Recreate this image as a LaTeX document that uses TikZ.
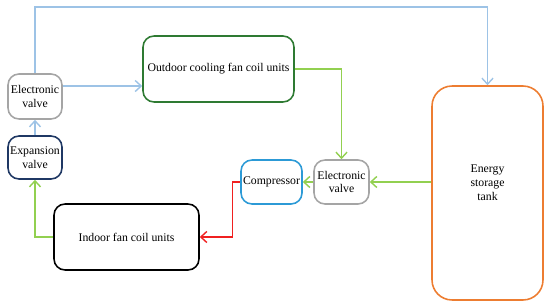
\documentclass[tikz,border=0pt]{standalone}
\usepackage{fontspec}
\setmainfont{Liberation Serif}
\usetikzlibrary{positioning,calc,arrows.meta}
\definecolor{valvegray}{HTML}{A5A5A5}
\definecolor{expnavy}{HTML}{1F3864}
\definecolor{outgreen}{HTML}{2E7A32}
\definecolor{tankorange}{HTML}{ED7D31}
\definecolor{compblue}{HTML}{2C9AD6}
\definecolor{pipeblue}{HTML}{9DC3E6}
\definecolor{pipegreen}{HTML}{92D050}
\definecolor{pipered}{HTML}{F02020}
\tikzset{
  unit/.style={rectangle,draw,line width=0.9pt,rounded corners=2.2mm,align=center,inner sep=1pt,
               font=\fontsize{6.7}{7.9}\selectfont},
  valve/.style={unit,draw=valvegray,minimum width=1.08cm,minimum height=0.9cm},
  pipe/.style={-{Straight Barb[length=1.2mm,width=2.2mm]},line width=0.8pt},
  coldpipe/.style={pipe,pipeblue},
  warmpipe/.style={pipe,pipegreen},
  hotpipe/.style={pipe,pipered},
}

\begin{document}
\begin{tikzpicture}[x=0.02cm,y=-0.02cm]
  \useasboundingbox (0,0) rectangle (550,307);
  % units of the loop
  \node[valve] (ev1) at (35,96.5) {Electronic\\valve};
  \node[unit,draw=expnavy,minimum width=1.08cm,minimum height=0.86cm] (exp) at (35,157.5) {Expansion\\valve};
  \node[unit,draw=outgreen,minimum width=3.02cm,minimum height=1.32cm] (outdoor) at (218.5,69) {Outdoor cooling fan coil units};
  \node[unit,draw=tankorange,rounded corners=4mm,minimum width=2.22cm,minimum height=4.28cm] (tank) at (487.5,193) {};
  \node[font=\fontsize{6.7}{7.9}\selectfont,align=center] (tanklab) at (487.5,183) {Energy\\storage\\tank};
  \node[valve,minimum width=1.1cm,minimum height=0.88cm] (ev2) at (341.5,182) {Electronic\\valve};
  \node[unit,draw=compblue,minimum width=1.22cm,minimum height=0.88cm] (comp) at (271.5,182) {Compressor};
  \node[unit,draw=black,minimum width=2.9cm,minimum height=1.32cm] (indoor) at (126.5,237) {Indoor fan coil units};
  % pipes
  \draw[coldpipe] (ev1.north) -- (35,7) -| (tank.north);
  \draw[coldpipe] ([yshift=2.1mm]ev1.east) -- ([yshift=2.1mm]ev1.east -| outdoor.west);
  \draw[coldpipe] (exp.north) -- (ev1.south);
  \draw[warmpipe] (outdoor.east) -| (ev2.north);
  \draw[warmpipe] (ev2.east -| tank.west) -- (ev2.east);
  \draw[warmpipe] (ev2.west) -- (comp.east);
  \draw[hotpipe] (comp.west) -- ++(-8,0) |- (indoor.east);
  \draw[warmpipe] (indoor.west) -| (exp.south);
\end{tikzpicture}
\end{document}
